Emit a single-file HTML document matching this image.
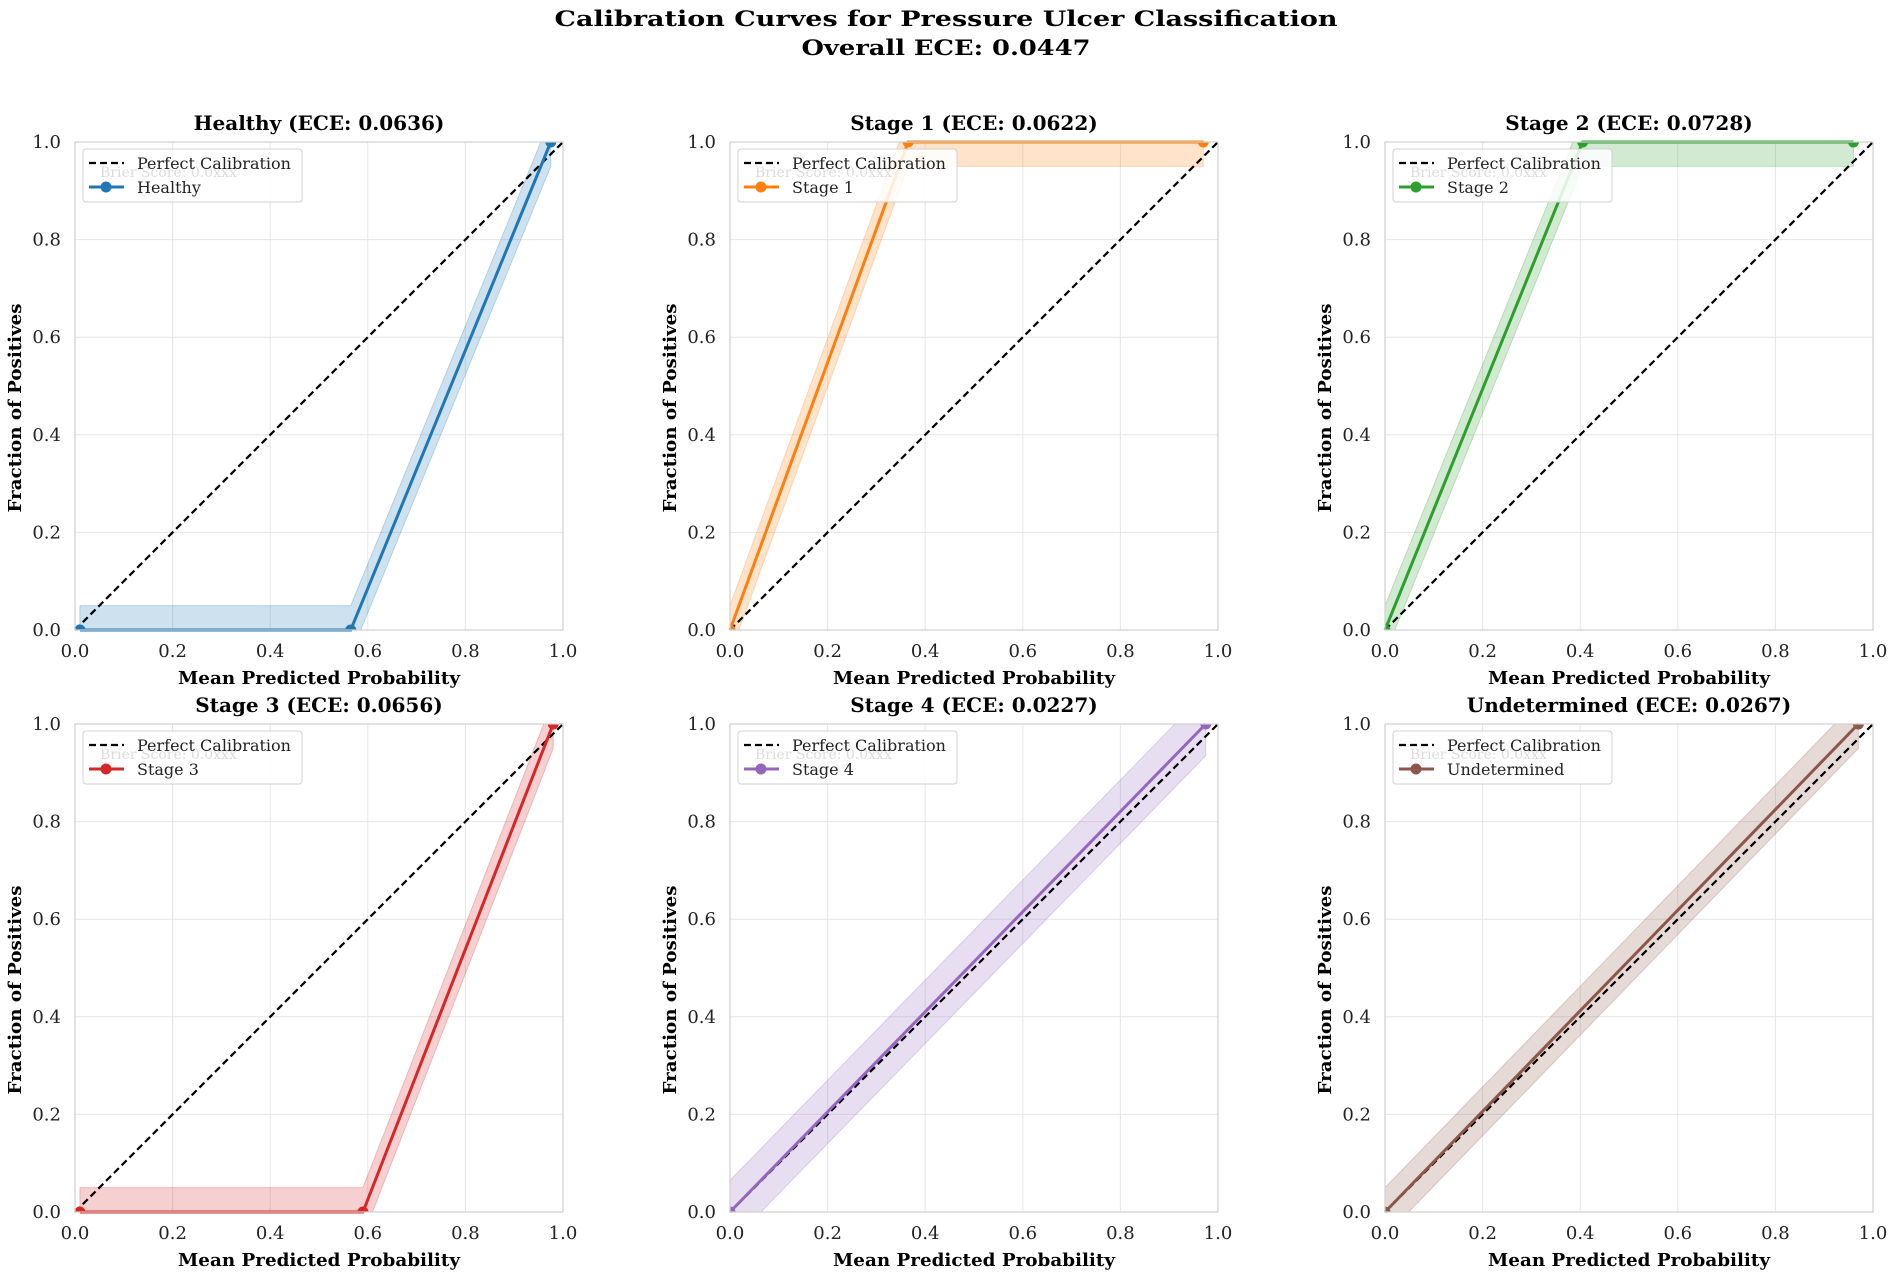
<!DOCTYPE html>
<html><head><meta charset="utf-8">
<style>
html,body{margin:0;padding:0;background:#fff;}
svg text{font-family:"DejaVu Serif","Liberation Serif",serif;}
</style></head>
<body>
<svg id="fig" width="1893" height="1276" viewBox="0 0 1893 1276" xmlns="http://www.w3.org/2000/svg">
<text x="946" y="26" text-anchor="middle" font-size="21" font-weight="bold" textLength="783" lengthAdjust="spacingAndGlyphs">Calibration Curves for Pressure Ulcer Classification</text>
<text x="946" y="55" text-anchor="middle" font-size="21" font-weight="bold" textLength="289" lengthAdjust="spacingAndGlyphs">Overall ECE: 0.0447</text>
</svg>
<script>
const classNames = ["Healthy","Stage 1","Stage 2","Stage 3","Stage 4","Undetermined"];
const eceValues = ["0.0636","0.0622","0.0728","0.0656","0.0227","0.0267"];
const seriesColors = ["#1f77b4","#ff7f0e","#2ca02c","#d62728","#9467bd","#8c564b"];
const xHealthy = [0.01,0.565,0.975];   const yHealthy = [0,0,1.0];
const xStage1 = [0.0,0.365,0.97];      const yStage1 = [0,1.0,1.0];
const xStage2 = [0.0,0.405,0.96];      const yStage2 = [0,1.0,1.0];
const xStage3 = [0.01,0.59,0.98];      const yStage3 = [0,0,1.0];
const xStage4 = [0.0,0.975];           const yStage4 = [0,1.0];
const xUndet = [0.0,0.97];             const yUndet = [0,1.0];
const bandHalf = [0.05,0.05,0.05,0.05,0.065,0.05];
const tickValues = [0,0.2,0.4,0.6,0.8,1.0];
const tickLabels = ["0.0","0.2","0.4","0.6","0.8","1.0"];
const allX = [xHealthy,xStage1,xStage2,xStage3,xStage4,xUndet];
const allY = [yHealthy,yStage1,yStage2,yStage3,yStage4,yUndet];

const NS="http://www.w3.org/2000/svg";
const svg=document.getElementById('fig');
function mk(tag,attrs,parent){const e=document.createElementNS(NS,tag);for(const k in attrs)e.setAttribute(k,attrs[k]);(parent||svg).appendChild(e);return e;}
const colX=[75,730,1385], rowY=[142,724], W=488, H=488;

for(let i=0;i<6;i++){
  const ox=colX[i%3], oy=rowY[Math.floor(i/3)];
  const sx=v=>ox+v*W, sy=v=>oy+H-v*H;
  const g=mk('g',{});
  
  
  const cp=mk('clipPath',{id:'clip'+i},g);
  mk('rect',{x:ox,y:oy,width:W,height:H},cp);
  tickValues.forEach((t,k)=>{
    const gx=mk('line',{x1:sx(t),x2:sx(t),y1:oy,y2:oy+H,stroke:'#e6e6e6','stroke-width':1},g);
    
    
    const gy=mk('line',{x1:ox,x2:ox+W,y1:sy(t),y2:sy(t),stroke:'#e6e6e6','stroke-width':1},g);
    
    
    const xt=mk('text',{x:sx(t),y:oy+H+27,'text-anchor':'middle','font-size':18,fill:'#222'},g);
    xt.textContent=tickLabels[k];
    
    
    const yt=mk('text',{x:ox-14,y:sy(t)+6,'text-anchor':'end','font-size':18,fill:'#222'},g);
    yt.textContent=tickLabels[k];
    
    
  });
  const xs=allX[i], ys=allY[i], d=bandHalf[i];
  let pts=[];
  xs.forEach((x,k)=>pts.push(sx(x)+','+sy(ys[k]+d)));
  for(let k=xs.length-1;k>=0;k--)pts.push(sx(xs[k])+','+sy(ys[k]-d));
  const band=mk('polygon',{points:pts.join(' '),fill:seriesColors[i],'fill-opacity':0.22,stroke:seriesColors[i],'stroke-opacity':0.25,'clip-path':'url(#clip'+i+')'},g);
  
  
  const diag=mk('line',{x1:sx(0),y1:sy(0),x2:sx(1),y2:sy(1),stroke:'#000','stroke-width':2.2,'stroke-dasharray':'7,4'},g);
  
  
  const line=mk('polyline',{points:xs.map((x,k)=>sx(x)+','+sy(ys[k])).join(' '),fill:'none',stroke:seriesColors[i],'stroke-width':3},g);
  
  
  xs.forEach((x,k)=>{
    const c=mk('circle',{cx:sx(x),cy:sy(ys[k]),r:5.5,fill:seriesColors[i],'clip-path':'url(#clip'+i+')'},g);
    
    
  });
  const sp=mk('rect',{x:ox,y:oy,width:W,height:H,fill:'none',stroke:'#cfcfcf','stroke-width':1.2},g);
  
  
  const lg=mk('g',{},g);
  
  
  mk('rect',{x:ox+8,y:oy+7,width:219,height:53,rx:3,fill:'#fff','fill-opacity':0.85,stroke:'#d0d0d0'},lg);
  const br=mk('text',{x:ox+25,y:oy+35,'font-size':14,fill:'#dcdcdc'},lg);
  br.textContent='Brier Score: 0.0xxx';
  
  
  mk('line',{x1:ox+14,x2:ox+49,y1:oy+21,y2:oy+21,stroke:'#000','stroke-width':2.2,'stroke-dasharray':'7,4'},lg);
  const l1=mk('text',{x:ox+62,y:oy+27,'font-size':16,fill:'#222'},lg);
  l1.textContent='Perfect Calibration';
  
  
  mk('line',{x1:ox+14,x2:ox+49,y1:oy+45,y2:oy+45,stroke:seriesColors[i],'stroke-width':3},lg);
  mk('circle',{cx:ox+31,cy:oy+45,r:5.5,fill:seriesColors[i]},lg);
  const l2=mk('text',{x:ox+62,y:oy+51,'font-size':16,fill:'#222'},lg);
  l2.textContent=classNames[i];
  
  
  const t=mk('text',{x:ox+W/2,y:oy-12,'text-anchor':'middle','font-size':20,'font-weight':'bold'},g);
  t.textContent=classNames[i]+' (ECE: '+eceValues[i]+')';
  
  
  const xl=mk('text',{x:ox+W/2,y:oy+H+54,'text-anchor':'middle','font-size':18,'font-weight':'bold',textLength:282,lengthAdjust:'spacingAndGlyphs'},g);
  xl.textContent='Mean Predicted Probability';
  
  
  const yl=mk('text',{x:0,y:0,'text-anchor':'middle','font-size':18,'font-weight':'bold',textLength:209,lengthAdjust:'spacingAndGlyphs',transform:'translate('+(ox-54)+','+(oy+H/2+H*0.045)+') rotate(-90)'},g);
  yl.textContent='Fraction of Positives';
  
  
}
</script>
</body></html>
